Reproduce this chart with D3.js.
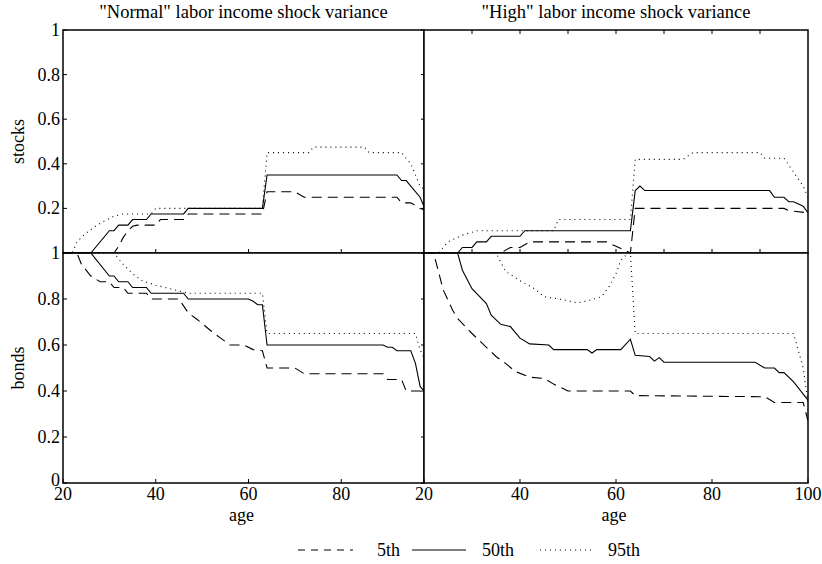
<!DOCTYPE html>
<html>
<head>
<meta charset="utf-8">
<script src="https://cdn.jsdelivr.net/npm/d3@7"></script>
</head>
<body style="margin:0">
<svg id="t" width="822" height="564"></svg>
<script>
// ---------------- data ----------------
const panelTitles = ['"Normal" labor income shock variance', '"High" labor income shock variance'];
const rowLabels = ["stocks", "bonds"];
const xTickValues = [20, 40, 60, 80, 100];
const yTickValues = [0, 0.2, 0.4, 0.6, 0.8, 1];
const xLabel = "age";
const legendLabels = ["5th", "50th", "95th"];

// [age, share] vertices
const normalStocks5 = [[20,0],[31,0],[32,0.03],[33,0.07],[34,0.1],[35,0.12],[36,0.125],[40,0.125],[41,0.15],[46,0.15],[47,0.175],[63,0.175],[64,0.275],[70,0.275],[72,0.25],[92,0.25],[93,0.225],[95,0.225],[97,0.2],[100,0.18]];
const normalStocks50 = [[20,0],[26,0],[30,0.1],[31,0.1],[32,0.125],[34,0.125],[35,0.15],[38,0.15],[39,0.175],[46,0.175],[47,0.2],[63,0.2],[64,0.35],[92,0.35],[93,0.325],[94,0.325],[97,0.25],[98,0.2],[100,0.18]];
const normalStocks95 = [[20,0],[22,0],[23,0.05],[25,0.09],[27,0.12],[29,0.145],[31,0.165],[33,0.175],[39,0.175],[40,0.2],[63,0.2],[64,0.45],[73,0.45],[74,0.475],[85,0.475],[86,0.45],[93,0.45],[95,0.4],[97,0.3],[100,0.25]];

const normalBonds5 = [[20,1],[23,1],[24,0.95],[26,0.9],[28,0.875],[30,0.875],[31,0.85],[33,0.85],[34,0.825],[38,0.825],[39,0.8],[45,0.8],[46,0.77],[47,0.74],[49,0.71],[52,0.66],[54,0.63],[56,0.6],[59,0.6],[61,0.58],[63,0.575],[64,0.5],[70,0.5],[72,0.475],[89,0.475],[90,0.45],[93,0.45],[94,0.4],[97,0.4],[98,0.37],[100,0.35]];
const normalBonds50 = [[20,1],[26,1],[30,0.9],[31,0.9],[32,0.875],[34,0.875],[35,0.85],[38,0.85],[39,0.825],[46,0.825],[47,0.8],[60,0.8],[61,0.79],[62,0.775],[63,0.775],[64,0.6],[89,0.6],[90,0.59],[91,0.59],[92,0.575],[95,0.575],[96,0.52],[97,0.42],[100,0.35]];
const normalBonds95 = [[20,1],[31,1],[33,0.95],[35,0.91],[37,0.88],[40,0.86],[44,0.84],[47,0.825],[63,0.825],[64,0.65],[96,0.65],[97,0.58],[100,0.45]];

const highStocks5 = [[20,0],[36,0],[38,0.025],[40,0.025],[42,0.05],[58,0.05],[60,0.03],[62,0.01],[63,0],[64,0.2],[95,0.2],[96,0.19],[100,0.18]];
const highStocks50 = [[20,0],[27,0],[28,0.025],[30,0.025],[31,0.05],[33,0.05],[34,0.075],[40,0.075],[41,0.1],[63,0.1],[64,0.28],[65,0.3],[66,0.28],[92,0.28],[93,0.25],[95,0.25],[96,0.23],[97,0.23],[99,0.21],[100,0.18]];
const highStocks95 = [[20,0],[23,0],[25,0.05],[28,0.08],[31,0.1],[47,0.1],[48,0.15],[63,0.15],[64,0.42],[74,0.42],[76,0.45],[90,0.45],[91,0.425],[95,0.425],[99,0.3],[100,0.25]];

const highBonds5 = [[20,1],[22,1],[24,0.84],[26,0.75],[27,0.715],[30,0.65],[33,0.59],[35,0.55],[37,0.52],[39,0.485],[42,0.46],[45,0.455],[47,0.43],[50,0.4],[63,0.4],[64,0.38],[91,0.375],[93,0.35],[99,0.35],[100,0.27]];
const highBonds50 = [[20,1],[27,1],[28,0.925],[30,0.845],[33,0.78],[34,0.73],[36,0.69],[38,0.68],[40,0.63],[42,0.605],[46,0.6],[47,0.58],[54,0.58],[55,0.565],[56,0.58],[61,0.58],[63,0.625],[64,0.555],[67,0.55],[68,0.53],[69,0.545],[70,0.525],[89,0.525],[91,0.5],[93,0.5],[94,0.48],[95,0.48],[97,0.44],[100,0.36]];
const highBonds95 = [[20,1],[35,1],[37,0.92],[40,0.88],[43,0.845],[45,0.81],[49,0.797],[52,0.783],[55,0.797],[57,0.81],[58.5,0.852],[60,0.91],[61,0.968],[62.5,1.0],[63,1.0],[64,0.65],[97,0.65],[99,0.5],[100,0.35]];

// ---------------- drawing ----------------
const svg = d3.select("#t");
const font = 18;

const colLayouts = [
  { x0: 63, x1: 434, clipRight: 424, xTicks: [20, 40, 60, 80], minorTop: [], minorMid: [40, 60, 80] },
  { x0: 424, x1: 808, clipRight: 808, xTicks: [20, 40, 60, 80, 100], minorTop: d3.range(30, 100, 10), minorMid: d3.range(30, 100, 10) }
];
const rowLayouts = [
  { y0: 30, y1: 253 },
  { y0: 253, y1: 483 }
];

const styles = [
  { dash: "10,6", width: 1.1 },
  { dash: null, width: 1.1 },
  { dash: "1,4", width: 1.1 }
];

const panelData = [
  [[normalStocks5, normalStocks50, normalStocks95], [normalBonds5, normalBonds50, normalBonds95]],
  [[highStocks5, highStocks50, highStocks95], [highBonds5, highBonds50, highBonds95]]
];

const defs = svg.append("defs");
const textQueue = [];
function addText(spec) { textQueue.push(spec); }

colLayouts.forEach((col, ci) => {
  const x = d3.scaleLinear().domain([20, 100]).range([col.x0, col.x1]);
  rowLayouts.forEach((row, ri) => {
    const y = d3.scaleLinear().domain([0, 1]).range([row.y1, row.y0]);
    const clipId = `clip-${ci}-${ri}`;
    defs.append("clipPath").attr("id", clipId)
      .append("rect")
      .attr("x", col.x0).attr("y", row.y0)
      .attr("width", col.clipRight - col.x0).attr("height", row.y1 - row.y0);

    const g = svg.append("g");
    g.append("rect").attr("x", col.x0).attr("y", row.y0)
      .attr("width", col.clipRight - col.x0).attr("height", row.y1 - row.y0)
      .attr("fill", "#fff");

    const line = d3.line().x(d => x(d[0])).y(d => y(d[1]));
    const lines = g.append("g").attr("clip-path", `url(#${clipId})`);
    panelData[ci][ri].forEach((series, si) => {
      lines.append("path")
        .attr("d", line(series))
        .attr("fill", "none")
        .attr("stroke", "#000")
        .attr("stroke-width", styles[si].width)
        .attr("stroke-dasharray", styles[si].dash);
    });

    // y ticks
    yTickValues.forEach(v => {
      const a = ci === 0 ? col.x0 : col.x0 - 3;
      const b = ci === 0 ? col.x0 + 4 : col.x0;
      g.append("line").attr("x1", a).attr("x2", b)
        .attr("y1", y(v)).attr("y2", y(v)).attr("stroke", "#000");
    });
    if (ci === 0) {
      const labs = ri === 0 ? yTickValues.filter(v => v > 0) : yTickValues;
      labs.forEach(v => {
        addText({ x: col.x0 - 3, y: y(v) + (v === 0 ? 3 : 6), anchor: "end", text: d3.format("~g")(v) });
      });
      addText({ x: 0, y: 0, anchor: "middle", text: rowLabels[ri],
        transform: `translate(24,${(row.y0 + row.y1) / 2}) rotate(-90)` });
    }

    // x ticks
    const bottomTicks = ri === 0 ? col.minorMid : col.xTicks;
    bottomTicks.forEach(v => {
      g.append("line").attr("x1", x(v)).attr("x2", x(v))
        .attr("y1", row.y1).attr("y2", row.y1 - 4).attr("stroke", "#000");
    });
    if (ri === 0) {
      col.minorTop.forEach(v => {
        g.append("line").attr("x1", x(v)).attr("x2", x(v))
          .attr("y1", row.y0).attr("y2", row.y0 + 4).attr("stroke", "#000");
      });
      addText({ x: (col.x0 + col.clipRight) / 2, y: 18, anchor: "middle", text: panelTitles[ci], size: 18.5 });
    } else {
      col.xTicks.forEach(v => {
        addText({ x: x(v), y: 500, anchor: "middle", text: String(v) });
      });
      addText({ x: (col.x0 + col.clipRight) / 2 - 2, y: 521, anchor: "middle", text: xLabel });
    }

    g.append("rect").attr("x", col.x0).attr("y", row.y0)
      .attr("width", col.clipRight - col.x0).attr("height", row.y1 - row.y0)
      .attr("fill", "none").attr("stroke", "#000").attr("stroke-width", 1.5);
  });
});

// legend
const legendItems = [
  { x0: 298, x1: 353, tx: 377 },
  { x0: 412, x1: 466, tx: 482 },
  { x0: 540, x1: 595, tx: 608 }
];
legendLabels.forEach((lab, i) => {
  const it = legendItems[i];
  svg.append("line").attr("x1", it.x0).attr("x2", it.x1)
    .attr("y1", 550).attr("y2", 550)
    .attr("stroke", "#000").attr("stroke-width", styles[i].width)
    .attr("stroke-dasharray", i === 0 ? "7,6" : styles[i].dash);
  addText({ x: it.tx, y: 556, anchor: "start", text: lab });
});

// all texts directly on the svg root
textQueue.forEach(s => {
  const t = svg.append("text")
    .attr("x", s.x).attr("y", s.y)
    .attr("font-size", s.size || font)
    .style("font-family", '"Liberation Serif"')
    .attr("text-anchor", s.anchor)
    .text(s.text);
  if (s.transform) t.attr("transform", s.transform);
});
</script>
</body>
</html>
